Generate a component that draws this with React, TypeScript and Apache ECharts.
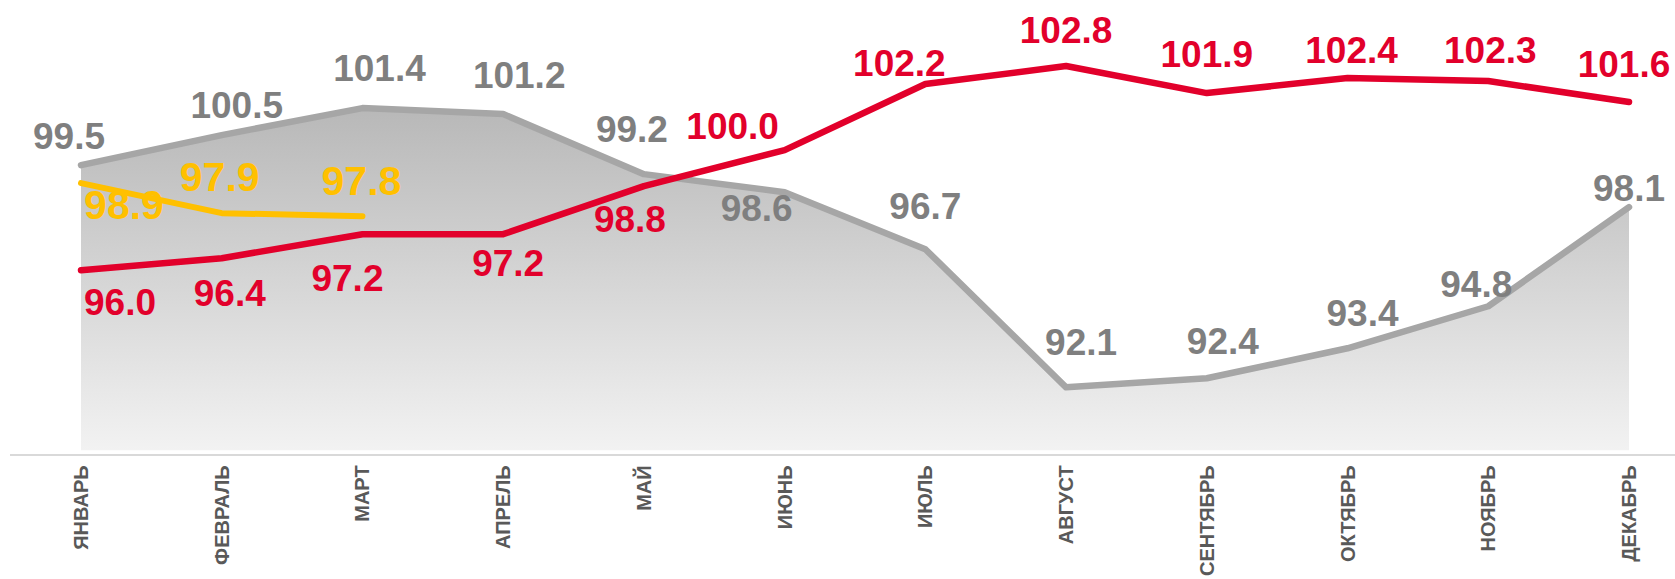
import React, { useEffect, useRef } from "react";
import * as echarts from "echarts";

const months = ["ЯНВАРЬ", "ФЕВРАЛЬ", "МАРТ", "АПРЕЛЬ", "МАЙ", "ИЮНЬ", "ИЮЛЬ", "АВГУСТ", "СЕНТЯБРЬ", "ОКТЯБРЬ", "НОЯБРЬ", "ДЕКАБРЬ"];
const grayValues = [99.5, 100.5, 101.4, 101.2, 99.2, 98.6, 96.7, 92.1, 92.4, 93.4, 94.8, 98.1];
const redValues = [96.0, 96.4, 97.2, 97.2, 98.8, 100.0, 102.2, 102.8, 101.9, 102.4, 102.3, 101.6];
const yellowValues = [98.9, 97.9, 97.8];

// label offsets (label centre relative to point)
const grayLabelOffsets = [[-12, -29], [15, -30], [17, -40], [16, -39], [-12, -45], [-28, 16], [0, -43], [15, -45], [16, -37], [15, -35], [-12, -22], [0, -19]];
const redLabelOffsets = [[39, 32], [8, 35], [-15, 44], [5, 29], [-14, 33], [-52, -24], [-26, -21], [0, -36], [0, -39], [4, -28], [2, -31], [-5, -38]];
const yellowLabelOffsets = [[43, 22], [-2, -36], [-1, -35]];

const FONT = "'Liberation Sans', Arial, sans-serif";

function withLabels(values: number[], offsets: number[][]) {
  return values.map((v, i) => ({ value: v, label: { offset: offsets[i] } }));
}

export default function App() {
  const ref = useRef<HTMLDivElement>(null);
  useEffect(() => {
    document.body.style.margin = "0";
    const chart = echarts.init(ref.current!, null, { renderer: "svg" });
    const labelBase = {
      show: true,
      position: "inside",
      fontFamily: FONT,
      fontWeight: "bold",
      fontSize: 37,
      formatter: (p: any) => Number(p.value).toFixed(1),
    };
    chart.setOption({
      animation: false,
      grid: { left: 81, right: 46, top: 0, bottom: 124 },
      graphic: [
        {
          type: "line",
          shape: { x1: 10, y1: 455, x2: 1675, y2: 455 },
          style: { stroke: "#d9d9d9", lineWidth: 2 },
          z: 0,
        },
      ],
      xAxis: {
        type: "category",
        data: months,
        boundaryGap: false,
        axisLine: { show: false },
        axisTick: { show: false },
        axisLabel: {
          interval: 0,
          rotate: 90,
          margin: 15,
          fontFamily: FONT,
          fontWeight: "bold",
          fontSize: 20,
          color: "#595959",
        },
        splitLine: { show: false },
      },
      yAxis: {
        type: "value",
        min: 90,
        max: 105,
        show: false,
        splitLine: { show: false },
      },
      series: [
        {
          type: "line",
          data: withLabels(grayValues, grayLabelOffsets),
          symbol: "circle",
          symbolSize: 0,
          lineStyle: { color: "#a6a6a6", width: 6.5, cap: "round", join: "round" },
          itemStyle: { color: "#a6a6a6" },
          areaStyle: {
            color: new echarts.graphic.LinearGradient(0, 0, 0, 1, [
              { offset: 0, color: "#b8b8b8" },
              { offset: 1, color: "#f2f2f2" },
            ]),
            opacity: 1,
          },
          label: { ...labelBase, color: "#7f7f7f" },
          z: 1,
        },
        {
          type: "line",
          data: withLabels(redValues, redLabelOffsets),
          symbol: "circle",
          symbolSize: 0,
          lineStyle: { color: "#e2002b", width: 6.5, cap: "round", join: "round" },
          itemStyle: { color: "#e2002b" },
          label: { ...labelBase, color: "#e2002b" },
          z: 3,
        },
        {
          type: "line",
          data: withLabels(yellowValues, yellowLabelOffsets),
          symbol: "circle",
          symbolSize: 0,
          lineStyle: { color: "#ffc000", width: 6, cap: "round", join: "round" },
          itemStyle: { color: "#ffc000" },
          label: { ...labelBase, color: "#ffc000", fontSize: 41 },
          z: 4,
        },
      ],
    });
    return () => chart.dispose();
  }, []);
  return <div ref={ref} style={{ width: 1675, height: 579 }} />;
}
